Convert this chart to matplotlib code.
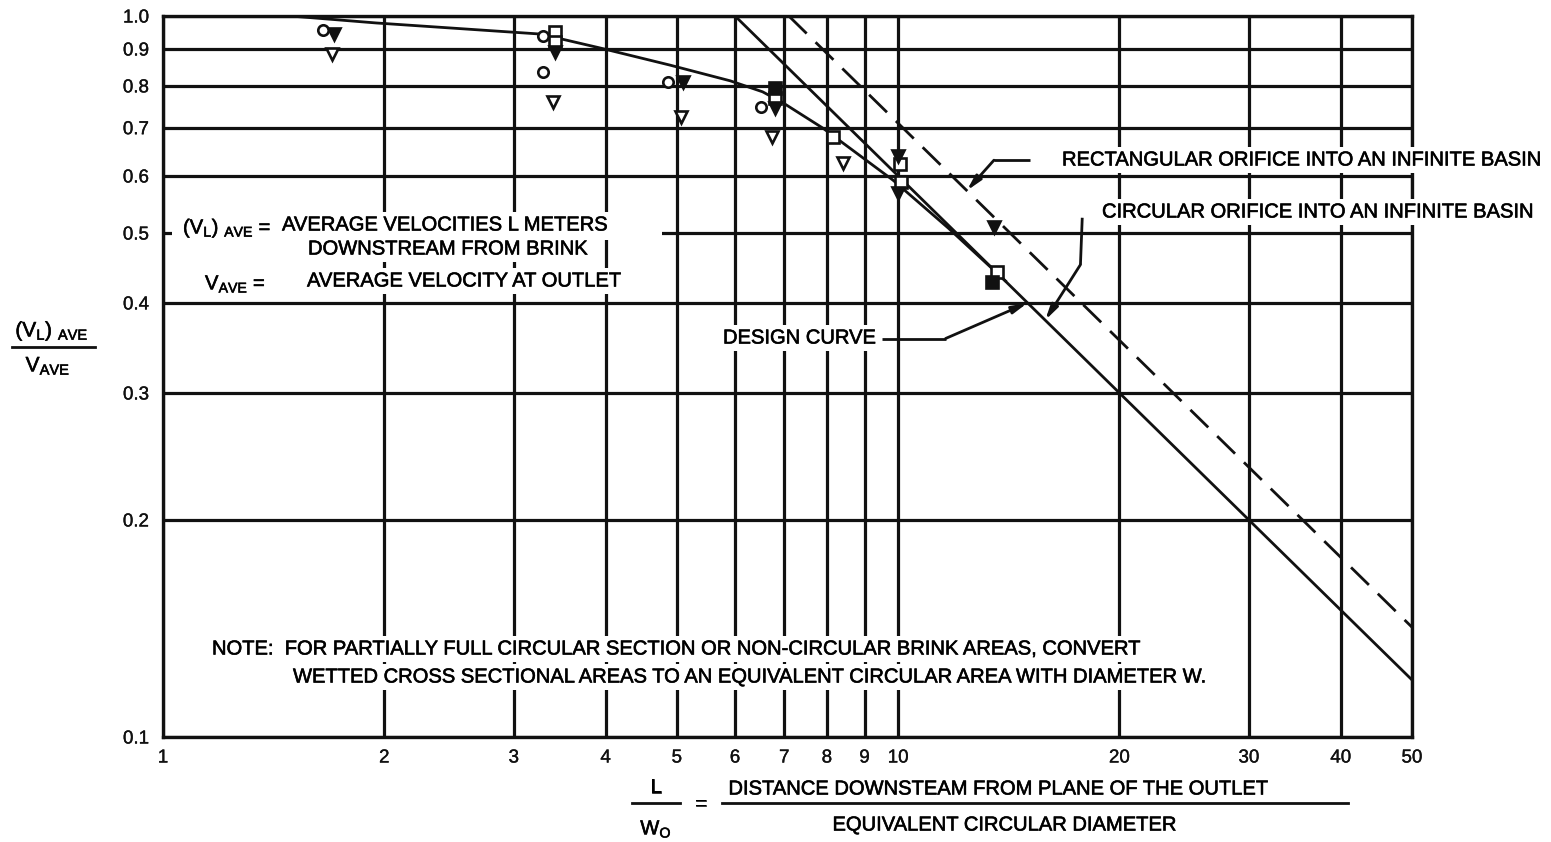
import matplotlib
matplotlib.use("Agg")
import matplotlib.pyplot as plt
from matplotlib import font_manager
from matplotlib.lines import Line2D
from matplotlib.patches import Rectangle
import matplotlib.patheffects as pe

# ---------------- data ----------------
x_ticks = [1, 2, 3, 4, 5, 6, 7, 8, 9, 10, 20, 30, 40, 50]
x_labels = ["1", "2", "3", "4", "5", "6", "7", "8", "9", "10", "20", "30", "40", "50"]
y_ticks = [0.1, 0.2, 0.3, 0.4, 0.5, 0.6, 0.7, 0.8, 0.9, 1.0]
y_labels = ["0.1", "0.2", "0.3", "0.4", "0.5", "0.6", "0.7", "0.8", "0.9", "1.0"]

design_x = [1.49, 1.95, 3.26, 3.93, 4.89, 5.91, 6.54, 6.97, 7.9, 9.84, 11.7, 14.0]
design_y = [1.0, 0.978, 0.944, 0.903, 0.855, 0.813, 0.785, 0.758, 0.699, 0.592, 0.508, 0.429]

circ_x = [6.0, 50.0]
circ_y = [1.0, 0.12]

rect_x = [7.1, 50.0]
rect_y = [1.0, 0.142]

open_circle_x = [1.65, 3.29, 3.29, 4.86, 6.5]
open_circle_y = [0.956, 0.938, 0.836, 0.81, 0.748]

filled_tri_x = [1.71, 3.41, 5.1, 6.8, 10.0, 10.0, 13.5]
filled_tri_y = [0.944, 0.891, 0.81, 0.745, 0.64, 0.568, 0.51]

open_tri_x = [1.70, 3.39, 5.07, 6.73, 8.42]
open_tri_y = [0.886, 0.76, 0.724, 0.679, 0.625]

open_sq_x = [3.41, 3.41, 6.8, 8.15, 10.05, 10.1, 13.64]
open_sq_y = [0.95, 0.92, 0.77, 0.68, 0.623, 0.589, 0.442]

filled_sq_x = [6.8, 13.4]
filled_sq_y = [0.795, 0.427]

# ---------------- fonts ----------------
avail = {f.name for f in font_manager.fontManager.ttflist}
fam = [f for f in ["Liberation Sans Narrow", "Liberation Sans", "DejaVu Sans"] if f in avail]
tick_fam = [f for f in ["Liberation Sans", "DejaVu Sans"] if f in avail]
plt.rcParams["font.family"] = fam
plt.rcParams["mathtext.fontset"] = "custom"
plt.rcParams["mathtext.rm"] = fam[0]
plt.rcParams["mathtext.it"] = fam[0]
plt.rcParams["mathtext.bf"] = fam[0]

W, H = 1551, 842
fig = plt.figure(figsize=(W / 100, H / 100), dpi=100)
ax = fig.add_axes([163 / W, 1 - 737 / H, (1412 - 163) / W, (737 - 16) / H])
ax.set_xscale("log")
ax.set_yscale("log")
ax.set_xlim(1, 50)
ax.set_ylim(0.1, 1.0)

thick = [pe.withStroke(linewidth=0.45, foreground="#111111")]
thin = [pe.withStroke(linewidth=0.25, foreground="#111111")]

ax.set_xticks(x_ticks, x_labels)
ax.set_yticks(y_ticks, y_labels)
ax.minorticks_off()
ax.tick_params(axis="both", length=0, labelsize=13.5, colors="#111111")
ax.tick_params(axis="x", pad=9)
ax.tick_params(axis="y", pad=10)
for lab in ax.get_xticklabels() + ax.get_yticklabels():
    lab.set_family(tick_fam)
    lab.set_path_effects(thin)
ax.grid(True, color="#111111", linewidth=2.3)
ax.set_axisbelow(True)
for s in ax.spines.values():
    s.set_linewidth(2.4)
    s.set_color("#111111")

lc = "#111111"
ax.plot(circ_x, circ_y, color=lc, lw=2.0, zorder=3)
ax.plot(rect_x, rect_y, color=lc, lw=2.0, dashes=(9, 4.5), zorder=3)
ax.plot(design_x, design_y, color=lc, lw=2.0, zorder=3)

ms = 8.5
mew = 1.9
ax.plot(open_circle_x, open_circle_y, "o", ms=ms - 1, mfc="white", mec=lc, mew=mew, zorder=4, clip_on=False)
ax.plot(open_tri_x, open_tri_y, "v", ms=ms, mfc="white", mec=lc, mew=mew, zorder=4, clip_on=False)
ax.plot(open_sq_x, open_sq_y, "s", ms=ms - 0.5, mfc="white", mec=lc, mew=mew, zorder=4, clip_on=False)
ax.plot(filled_sq_x, filled_sq_y, "s", ms=ms - 0.5, mfc=lc, mec=lc, mew=mew, zorder=4, clip_on=False)
ax.plot(filled_tri_x, filled_tri_y, "v", ms=ms, mfc=lc, mec=lc, mew=mew, zorder=5, clip_on=False)

# ---------------- leader lines (in data coordinates) ----------------
def leader(pts, tip):
    xs = [p[0] for p in pts]
    ys = [p[1] for p in pts]
    ax.plot(xs, ys, color=lc, lw=2.0, zorder=3, solid_capstyle="butt")
    ax.annotate("", xy=tip, xytext=pts[-1],
                arrowprops=dict(arrowstyle="-|>,head_length=0.9,head_width=0.22",
                                color=lc, lw=2.0, shrinkA=0, shrinkB=0), zorder=3)

leader([(15.1, 0.631), (13.5, 0.631)], (12.4, 7.1 / 12.4))
leader([(17.8, 0.525), (17.7, 0.452)], (15.85, 6.0 / 15.85))
leader([(9.5, 0.357), (11.6, 0.357)], (15.0, 6.0 / 15.0))

# ---------------- texts ----------------
box = dict(facecolor="white", edgecolor="none", boxstyle="square,pad=0.15")
FS = 14.5

def ftxt(px, py, s, ha="left", va="center", fs=FS, bbox=box, **kw):
    t = fig.text(px / W, 1 - py / H, s, ha=ha, va=va, fontsize=fs, bbox=bbox, **kw)
    t.set_path_effects(thick)
    return t

ftxt(1062, 160, "RECTANGULAR ORIFICE INTO AN INFINITE BASIN")
ftxt(1102, 212, "CIRCULAR ORIFICE INTO AN INFINITE BASIN")
ftxt(723, 338, "DESIGN CURVE")

# white background strip behind the first definition row
fig.add_artist(Rectangle((172 / W, 1 - 240 / H), (662 - 172) / W, 28 / H,
                         transform=fig.transFigure, facecolor="white",
                         edgecolor="none", zorder=2.5))
ftxt(183, 228, r"$\mathregular{(V_L)\ _{AVE}}$ =")
ftxt(282, 225, "AVERAGE VELOCITIES L METERS")
ftxt(308, 249, "DOWNSTREAM FROM BRINK")
ftxt(205, 284, r"$\mathregular{V_{AVE}}$ =")
ftxt(307, 281, "AVERAGE VELOCITY AT OUTLET")

ftxt(212, 649, "NOTE:  FOR PARTIALLY FULL CIRCULAR SECTION OR NON-CIRCULAR BRINK AREAS, CONVERT")
ftxt(293, 677, "WETTED CROSS SECTIONAL AREAS TO AN EQUIVALENT CIRCULAR AREA WITH DIAMETER W.")

# y-axis label (fraction)
ftxt(52, 331, r"$\mathregular{(V_L)\ _{AVE}}$", ha="center", bbox=None, fs=15)
fig.add_artist(Line2D([12 / W, 95 / W], [1 - 347 / H, 1 - 347 / H], color=lc, lw=2.0))
ftxt(48, 366, r"$\mathregular{V_{AVE}}$", ha="center", bbox=None, fs=15)

# x-axis label (fraction)
ftxt(656, 787, "L", ha="center", bbox=None)
fig.add_artist(Line2D([632 / W, 680 / W], [1 - 803 / H, 1 - 803 / H], color=lc, lw=2.0))
ftxt(656, 829, r"$\mathregular{W_O}$", ha="center", bbox=None)
ftxt(701, 804, "=", ha="center", bbox=None)
ftxt(998, 789, "DISTANCE DOWNSTEAM FROM PLANE OF THE OUTLET", ha="center", bbox=None)
fig.add_artist(Line2D([722 / W, 1348 / W], [1 - 803 / H, 1 - 803 / H], color=lc, lw=2.0))
ftxt(1004, 825, "EQUIVALENT CIRCULAR DIAMETER", ha="center", bbox=None)

fig.savefig("out.png", dpi=100, facecolor="white")
